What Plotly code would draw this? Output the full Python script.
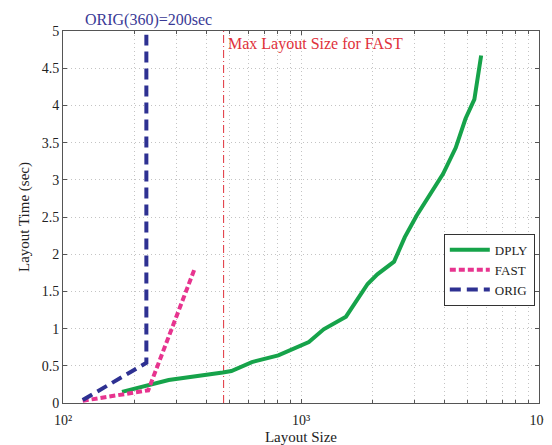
import plotly.graph_objects as go

dply_x = [177, 228, 278, 469, 510, 622, 803, 1079, 1245, 1545, 1905, 2093, 2461, 2730, 3063, 3954, 4467, 4910, 5350, 5714]
dply_y = [0.15, 0.235, 0.31, 0.41, 0.43, 0.55, 0.64, 0.82, 0.99, 1.16, 1.6, 1.73, 1.9, 2.23, 2.52, 3.08, 3.43, 3.82, 4.08, 4.67]

fast_x = [121, 228, 356]
fast_y = [0.03, 0.17, 1.79]

orig_x = [121, 224, 224]
orig_y = [0.04, 0.54, 4.95]

max_fast_x = [473, 473]
max_fast_y = [0, 5]

x_ticks = [100, 1000, 10000]
x_ticktext = ["10²", "10³", "10⁴"]
x_minor = [m * d for d in (100, 1000) for m in range(2, 10)]
y_ticks = [0, 0.5, 1, 1.5, 2, 2.5, 3, 3.5, 4, 4.5, 5]
y_ticktext = ["0", "0.5", "1", "1.5", "2", "2.5", "3", "3.5", "4", "4.5", "5"]

GREEN = "#16a34a"
MAGENTA = "#e7348f"
NAVY = "#2e3192"
RED = "#e0313b"
FONT = "Times New Roman, Liberation Serif, DejaVu Serif, serif"

fig = go.Figure()
fig.add_trace(go.Scatter(x=max_fast_x, y=max_fast_y, mode="lines",
                         line=dict(color=RED, width=1, dash="8px,3px,1px,3px"),
                         showlegend=False, hoverinfo="skip"))
fig.add_trace(go.Scatter(x=dply_x, y=dply_y, mode="lines", name="DPLY",
                         line=dict(color=GREEN, width=4)))
fig.add_trace(go.Scatter(x=fast_x, y=fast_y, mode="lines", name="FAST",
                         line=dict(color=MAGENTA, width=4, dash="6px,3px")))
fig.add_trace(go.Scatter(x=orig_x, y=orig_y, mode="lines", name="ORIG",
                         line=dict(color=NAVY, width=4, dash="11px,6px")))

fig.add_annotation(x=2.36, y=5, xref="x", yref="y", text="ORIG(360)=200sec",
                   showarrow=False, xanchor="center", yanchor="bottom",
                   font=dict(family=FONT, size=16, color="#3a3a96"))
fig.add_annotation(x=2.685, y=5, xref="x", yref="y", text="Max Layout Size for FAST",
                   showarrow=False, xanchor="left", yanchor="top", yshift=-2,
                   font=dict(family=FONT, size=16, color=RED))

axis_common = dict(showline=True, linecolor="#555", linewidth=1, mirror="ticks",
                   ticks="inside", ticklen=4, tickcolor="#555",
                   showgrid=True, gridcolor="#c4c4c4", griddash="1px,3px", gridwidth=1,
                   zeroline=False, tickfont=dict(family=FONT, size=14, color="#222"))

fig.update_xaxes(type="log", range=[2, 4], tickvals=x_ticks, ticktext=x_ticktext,
                 ticklabelstandoff=4,
                 minor=dict(tickvals=x_minor, ticks="inside", ticklen=3, tickcolor="#555",
                            showgrid=True, gridcolor="#c4c4c4", griddash="1px,3px"),
                 title=dict(text="Layout Size", font=dict(family=FONT, size=15, color="#222"), standoff=4),
                 **axis_common)
fig.update_yaxes(range=[0, 5], tickvals=y_ticks, ticktext=y_ticktext,
                 title=dict(text="Layout Time (sec)", font=dict(family=FONT, size=15, color="#222"), standoff=8),
                 **axis_common)

fig.update_layout(width=552, height=445, margin=dict(l=55, r=11, t=23, b=39),
                  plot_bgcolor="white", paper_bgcolor="white",
                  font=dict(family=FONT),
                  legend=dict(x=0.80, y=0.358, xanchor="left", yanchor="middle",
                              bordercolor="#333", borderwidth=1, bgcolor="white",
                              font=dict(family=FONT, size=13, color="#222"),
                              tracegroupgap=0, itemwidth=40))

fig.write_html("out.html")
